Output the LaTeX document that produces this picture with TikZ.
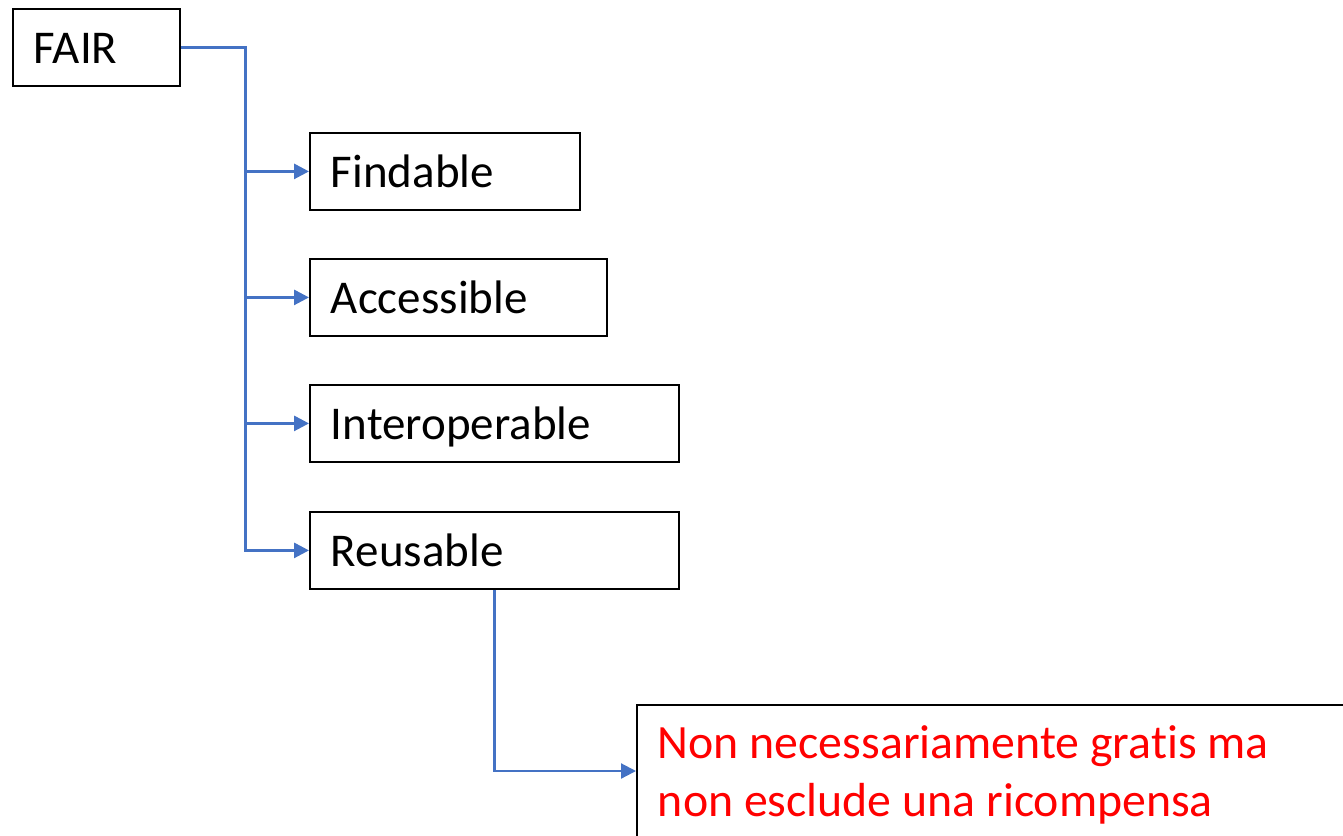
\documentclass[tikz,border=0pt]{standalone}
\usepackage{fontspec}
\setmainfont{Carlito}[Ligatures={NoCommon}]
\usetikzlibrary{arrows.meta}
\definecolor{linkblue}{HTML}{4472C4}
\definecolor{redtext}{HTML}{FF0000}
\tikzset{
  boxnode/.style={draw=black, line width=1.8pt, anchor=north west, minimum height=77pt,
    inner xsep=21pt, inner ysep=0pt, text height=32pt, text depth=0pt, align=flush left,
    font=\fontsize{47}{58}\selectfont},
  conn/.style={draw=linkblue, line width=2.8pt, -{Triangle[length=15pt,width=15pt]}},
  connthin/.style={draw=linkblue, line width=2.2pt, -{Triangle[length=15pt,width=15pt]}},
}
\begin{document}
\begin{tikzpicture}[x=1pt,y=-1pt]
\useasboundingbox (0,0) rectangle (1343,835);
\clip (0,0) rectangle (1343,835);
\fill[white] (0,0) rectangle (1343,835);
\node[boxnode, text width=125pt] (fair) at (12,8) {FAIR};
\node[boxnode, text width=228pt] (find) at (309,132) {Findable};
\node[boxnode, text width=255pt] (acc) at (309,258) {Accessible};
\node[boxnode, text width=327pt] (inter) at (309,384) {Interoperable};
\node[boxnode, text width=327pt] (reus) at (309,511) {Reusable};
\node[draw=black, line width=1.8pt, anchor=north west, inner xsep=21pt, inner ysep=16pt,
  text width=760pt, align=flush left, text=redtext, font=\fontsize{47.8}{58}\selectfont]
  (red) at (636,704) {\rule{0pt}{38pt}Non necessariamente gratis ma\\non esclude una ricompensa\\ \strut};
\coordinate (j) at ([xshift=65pt]fair.east);
\coordinate (redin) at ([yshift=-67pt]red.north west);
\draw[conn] (fair.east) -- (j) |- (reus.west);
\draw[conn] (j |- find.west) -- (find.west);
\draw[conn] (j |- acc.west) -- (acc.west);
\draw[conn] (j |- inter.west) -- (inter.west);
\draw[connthin] (reus.south) |- (redin);
\end{tikzpicture}
\end{document}
